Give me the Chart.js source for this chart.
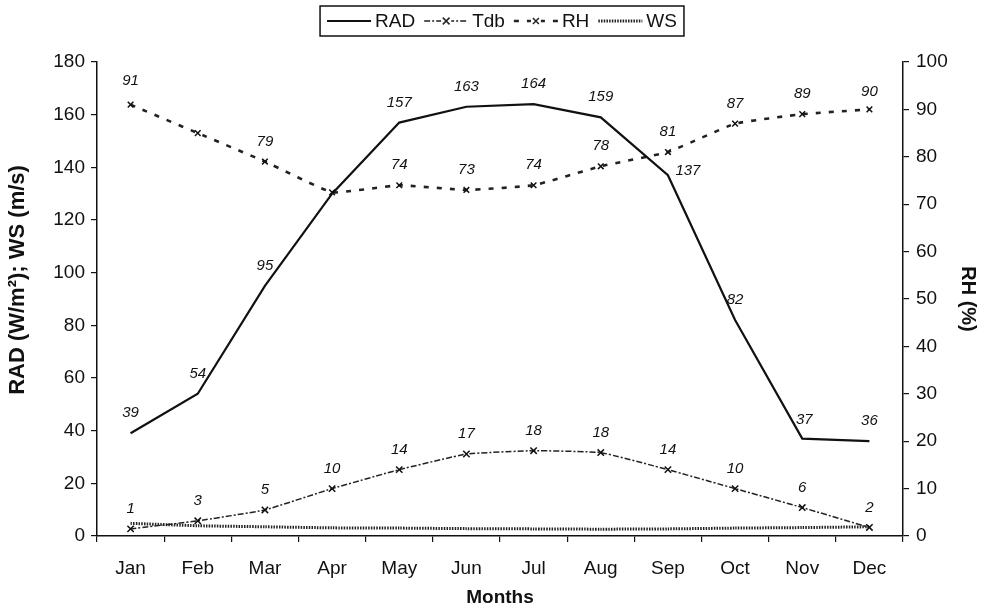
<!DOCTYPE html>
<html>
<head>
<meta charset="utf-8">
<script src="https://cdn.jsdelivr.net/npm/chart.js@4.4.0/dist/chart.umd.min.js"></script>
<style>
html,body{margin:0;padding:0;background:#fff;}
#wrap{width:986px;height:611px;position:relative;}
</style>
</head>
<body>
<div id="wrap"><canvas id="c" width="986" height="611"></canvas></div>
<script>
// ---- data ----
const months = ["Jan","Feb","Mar","Apr","May","Jun","Jul","Aug","Sep","Oct","Nov","Dec"];
const radValues = [39, 54, 95, 130, 157, 163, 164, 159, 137, 82, 37, 36];
const radLabels = ["39","54","95",null,"157","163","164","159","137","82","37","36"];
const tdbValues = [1.5, 3.2, 5.5, 10, 14, 17.3, 18, 17.6, 14, 10, 6, 1.8];
const tdbLabels = ["1","3","5","10","14","17","18","18","14","10","6","2"];
const rhValues = [91, 85, 79, 72.5, 74, 73, 74, 78, 81, 87, 89, 90];
const rhLabels = ["91",null,"79",null,"74","73","74","78","81","87","89","90"];
const wsValues = [4.8, 3.9, 3.5, 3.1, 3.0, 2.8, 2.7, 2.6, 2.7, 3.0, 3.2, 3.5];
const leftTicks = [0,20,40,60,80,100,120,140,160,180];
const rightTicks = [0,10,20,30,40,50,60,70,80,90,100];
const leftTitle = "RAD (W/m²); WS (m/s)";

const FONT = "'Liberation Sans', Arial, sans-serif";

const labelPlugin = {
  id: 'valueLabels',
  afterDatasetsDraw(chart) {
    const ctx = chart.ctx;
    ctx.save();
    ctx.font = "italic 15px " + FONT;
    ctx.fillStyle = "#111";
    ctx.textAlign = "center";
    ctx.textBaseline = "middle";
    chart.data.datasets.forEach((ds, di) => {
      if (!ds.valueLabels) return;
      const meta = chart.getDatasetMeta(di);
      meta.data.forEach((pt, i) => {
        const t = ds.valueLabels[i];
        if (t == null) return;
        const nudge = (ds.labelNudge && ds.labelNudge[i]) || [0, 0];
        ctx.fillText(t, pt.x + nudge[0], pt.y - 20 + nudge[1]);
      });
    });
    ctx.restore();
  }
};

const leftTitlePlugin = {
  id: 'leftTitle',
  afterDraw(chart) {
    const ctx = chart.ctx;
    ctx.save();
    ctx.font = "bold 22px " + FONT;
    ctx.fillStyle = "#111";
    ctx.textAlign = "center";
    ctx.textBaseline = "middle";
    ctx.translate(18, 280);
    ctx.rotate(-Math.PI / 2);
    ctx.fillText(leftTitle, 0, 0);
    ctx.restore();
  }
};

const legendPlugin = {
  id: 'boxLegend',
  afterDraw(chart) {
    const ctx = chart.ctx;
    ctx.save();
    ctx.font = "19px " + FONT;
    const sample = 44, gapT = 4, gapI = 9, pad = 7;
    const items = chart.data.datasets.map(ds => ({ds, w: ctx.measureText(ds.label).width}));
    let total = pad * 2;
    items.forEach((it, k) => { total += sample + gapT + it.w + (k ? gapI : 0); });
    const cx = 502, top = 6, h = 30;
    let x = cx - total / 2;
    ctx.strokeStyle = "#111";
    ctx.lineWidth = 1.5;
    ctx.strokeRect(x, top, total, h);
    x += pad;
    const yMid = top + h / 2;
    items.forEach((it, k) => {
      if (k) x += gapI;
      const ds = it.ds;
      ctx.save();
      ctx.strokeStyle = ds.borderColor;
      ctx.lineWidth = ds.borderWidth;
      ctx.setLineDash(ds.borderDash || []);
      ctx.beginPath();
      ctx.moveTo(x, yMid); ctx.lineTo(x + sample, yMid);
      ctx.stroke();
      ctx.restore();
      if (ds.pointRadius > 0) {
        ctx.save();
        ctx.fillStyle = '#fff';
        ctx.fillRect(x + sample/2 - 5, yMid - 5, 10, 10);
        ctx.strokeStyle = ds.borderColor;
        ctx.lineWidth = ds.pointBorderWidth;
        ctx.setLineDash([]);
        ctx.beginPath();
        const r = ds.pointRadius * 0.75;
        ctx.moveTo(x + sample/2 - r, yMid - r); ctx.lineTo(x + sample/2 + r, yMid + r);
        ctx.moveTo(x + sample/2 + r, yMid - r); ctx.lineTo(x + sample/2 - r, yMid + r);
        ctx.stroke();
        ctx.restore();
      }
      x += sample + gapT;
      ctx.fillStyle = "#111";
      ctx.textAlign = "left";
      ctx.textBaseline = "middle";
      ctx.fillText(ds.label, x, yMid + 1);
      x += it.w;
    });
    ctx.restore();
  }
};

new Chart(document.getElementById('c'), {
  type: 'line',
  data: {
    labels: months,
    datasets: [
      {
        label: 'RAD', data: radValues, yAxisID: 'y',
        borderColor: '#111', borderWidth: 2.2, borderDash: [],
        pointRadius: 0, tension: 0,
        valueLabels: radLabels,
        labelNudge: {8: [20, 16], 10: [2, 1]}
      },
      {
        label: 'Tdb', data: tdbValues, yAxisID: 'y1',
        borderColor: '#222', borderWidth: 1.5, borderDash: [6, 2, 2, 2],
        pointStyle: 'crossRot', pointRadius: 4.5, pointBorderWidth: 1.5,
        pointBorderColor: '#111', tension: 0.1,
        valueLabels: tdbLabels
      },
      {
        label: 'RH', data: rhValues, yAxisID: 'y1',
        borderColor: '#222', borderWidth: 2.6, borderDash: [5, 8],
        pointStyle: 'crossRot', pointRadius: 4, pointBorderWidth: 1.5,
        pointBorderColor: '#111', tension: 0.1,
        valueLabels: rhLabels,
        labelNudge: {0: [0, -4], 11: [0, 2]}
      },
      {
        label: 'WS', data: wsValues, yAxisID: 'y',
        borderColor: '#222', borderWidth: 3, borderDash: [1.5, 1.2],
        pointRadius: 0, tension: 0.2
      }
    ]
  },
  options: {
    responsive: false,
    animation: false,
    layout: {padding: {top: 62, left: 0, right: 0, bottom: 0}},
    plugins: {legend: {display: false}, tooltip: {enabled: false}},
    scales: {
      x: {
        type: 'category', offset: true,
        grid: {offset: true, drawOnChartArea: false, drawTicks: true, tickLength: 6, color: '#111', lineWidth: 1.2},
        border: {display: true, color: '#111', width: 1.5},
        ticks: {color: '#111', font: {family: FONT, size: 19}, padding: 15, maxRotation: 0, autoSkip: false},
        title: {display: true, text: 'Months', color: '#111', font: {family: FONT, size: 19, weight: 'bold'}, padding: {top: 0, bottom: 2}},
        afterFit(s) { s.height = 75; }
      },
      y: {
        position: 'left', min: 0, max: 180,
        afterBuildTicks(s) { s.ticks = leftTicks.map(v => ({value: v})); },
        grid: {drawOnChartArea: false, drawTicks: true, tickLength: 6, color: '#111', lineWidth: 1.2},
        border: {display: true, color: '#111', width: 1.5},
        ticks: {color: '#111', font: {family: FONT, size: 19}, padding: 6},
        title: {display: false},
        afterFit(s) { s.width = 97; }
      },
      y1: {
        position: 'right', min: 0, max: 100,
        afterBuildTicks(s) { s.ticks = rightTicks.map(v => ({value: v})); },
        grid: {drawOnChartArea: false, drawTicks: true, tickLength: 6, color: '#111', lineWidth: 1.2},
        border: {display: true, color: '#111', width: 1.5},
        ticks: {color: '#111', font: {family: FONT, size: 19}, padding: 7},
        title: {display: true, text: 'RH (%)', color: '#111', font: {family: FONT, size: 20, weight: 'bold'}, padding: {top: 6, bottom: 0}},
        afterFit(s) { s.width = 83; }
      }
    }
  },
  plugins: [labelPlugin, legendPlugin, leftTitlePlugin]
});
</script>
</body>
</html>
